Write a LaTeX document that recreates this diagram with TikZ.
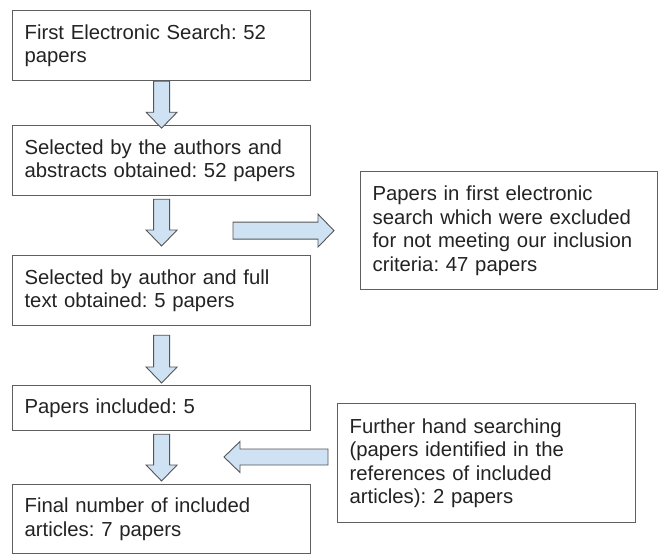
\documentclass[tikz,border=0pt]{standalone}
\usepackage{fontspec}
\setmainfont{Liberation Sans}
\usetikzlibrary{calc}
\definecolor{boxline}{RGB}{95,95,95}
\definecolor{arrowline}{RGB}{85,85,85}
\definecolor{arrowfill}{RGB}{207,226,243}
\definecolor{txt}{RGB}{35,35,35}
\newcommand{\myboxfont}{\fontsize{20.3}{23.5}\selectfont\frenchspacing\hyphenpenalty 10000\relax\exhyphenpenalty 10000\relax}
\tikzset{
  box/.style={draw=boxline, line width=1.2pt, rectangle, anchor=north west,
    inner xsep=12pt, inner ysep=0pt, align=left, text=txt, font=\myboxfont},
  blockarrow/.style={draw=arrowline, fill=arrowfill, line width=0.9pt, line join=miter}
}
% vertical block arrow: #1 top-centre of shaft, #2 tip
\newcommand{\myvarrow}[2]{%
  \draw[blockarrow] let \p1=#1, \p2=#2 in
    (\x1-8pt,\y1) -- (\x1+8pt,\y1) -- (\x1+8pt,\y2+16pt) -- (\x1+15.5pt,\y2+16pt)
    -- (\x1,\y2) -- (\x1-15.5pt,\y2+16pt) -- (\x1-8pt,\y2+16pt) -- cycle;}
% right-pointing block arrow
\newcommand{\myrarrow}[2]{%
  \draw[blockarrow] let \p1=#1, \p2=#2 in
    (\x1,\y2+8.5pt) -- (\x2-16pt,\y2+8.5pt) -- (\x2-16pt,\y2+16.5pt) -- (\x2,\y2)
    -- (\x2-16pt,\y2-16.5pt) -- (\x2-16pt,\y2-8.5pt) -- (\x1,\y2-8.5pt) -- cycle;}
% left-pointing block arrow
\newcommand{\mylarrow}[2]{%
  \draw[blockarrow] let \p1=#1, \p2=#2 in
    (\x1,\y2+8pt) -- (\x2+16pt,\y2+8pt) -- (\x2+16pt,\y2+15.5pt) -- (\x2,\y2)
    -- (\x2+16pt,\y2-15.5pt) -- (\x2+16pt,\y2-8pt) -- (\x1,\y2-8pt) -- cycle;}
\begin{document}
\begin{tikzpicture}[x=1pt,y=-1pt]
\useasboundingbox (0,0) rectangle (665,554);
\fill[white] (0,0) rectangle (665,554);

\node[box, minimum width=298pt, minimum height=70pt, text width=274pt] (b1) at (12,10)
  {First Electronic Search: 52\\papers};
\node[box, minimum width=298pt, minimum height=70pt, text width=274pt] (b2) at (12,125)
  {Selected by the authors and\\abstracts obtained: 52 papers};
\node[box, minimum width=298pt, minimum height=70pt, text width=274pt] (b3) at (12,255)
  {Selected by author and full\\text obtained: 5 papers};
\node[box, minimum width=298pt, minimum height=45pt, text width=274pt] (b5) at (12,385)
  {Papers included: 5};
\node[box, minimum width=298pt, minimum height=69pt, text width=274pt] (b6) at (12,484)
  {Final number of included\\articles: 7 papers};
\node[box, minimum width=297pt, minimum height=118pt, text width=273pt] (b4) at (360,171)
  {Papers in first electronic\\search which were excluded\\for not meeting our inclusion\\criteria: 47 papers};
\node[box, minimum width=298pt, minimum height=119pt, text width=274pt] (b7) at (337,403)
  {Further hand searching\\(papers identified in the\\references of included\\articles): 2 papers};

\myvarrow{(b1.south)}{($(b1.south)+(0,47)$)}
\myvarrow{($(b2.south)+(0,3)$)}{($(b3.north)+(0,-9)$)}
\myvarrow{($(b3.south)+(0,9)$)}{($(b5.north)+(0,-2)$)}
\myvarrow{($(b5.south)+(0,3)$)}{($(b6.north)+(0,-3)$)}

\coordinate (r0) at (233,230);
\coordinate (r1) at ($(b4.west)+(-26,0)$);
\myrarrow{(r0)}{(r1)}

\coordinate (l0) at ($(b7.west)+(-9,0)$);
\coordinate (l1) at (224,457);
\mylarrow{(l0)}{(l1)}
\end{tikzpicture}
\end{document}
